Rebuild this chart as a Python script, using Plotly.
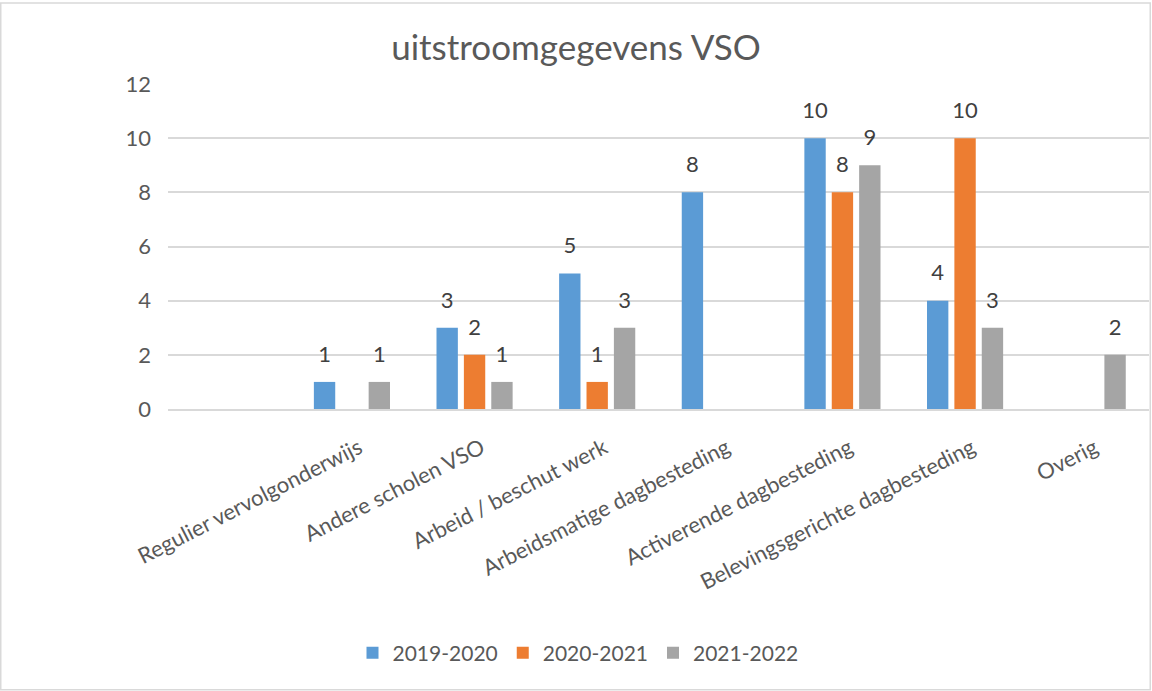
import plotly.graph_objects as go

categories = [
    "Regulier vervolgonderwijs",
    "Andere scholen VSO",
    "Arbeid / beschut werk",
    "Arbeidsmatige dagbesteding",
    "Activerende dagbesteding",
    "Belevingsgerichte dagbesteding",
    "Overig",
]
series_names = ["2019-2020", "2020-2021", "2021-2022"]
values_2019_2020 = [1, 3, 5, 8, 10, 4, None]
values_2020_2021 = [None, 2, 1, None, 8, 10, None]
values_2021_2022 = [1, 1, 3, None, 9, 3, 2]
colors = ["#5B9BD5", "#ED7D31", "#A5A5A5"]

W, H = 1152, 691
ML, MR, MT, MB = 168, 3, 84, 282
FONT = "Lato"
TXT = "#595959"

fig = go.Figure()
all_vals = [values_2019_2020, values_2020_2021, values_2021_2022]
for name, vals, col in zip(series_names, all_vals, colors):
    fig.add_trace(go.Bar(
        name=name, x=categories, y=vals, marker_color=col,
        marker_line_width=0, hoverinfo="x+y+name",
    ))
# data labels, grouped like the bars
for name, vals in zip(series_names, all_vals):
    fig.add_trace(go.Scatter(
        x=categories, y=vals, mode="markers+text", showlegend=False,
        text=[("" if v is None else str(v)) for v in vals],
        textposition="top center", cliponaxis=False, hoverinfo="skip",
        marker=dict(size=22, color="rgba(0,0,0,0)"),
        textfont=dict(family=FONT, size=22, color="#404040"),
    ))

pw = W - ML - MR
ph = H - MT - MB
fig.add_shape(type="rect", xref="paper", yref="paper",
              x0=(0.75 - ML) / pw, x1=(W - 1.75 - ML) / pw,
              y0=-(H - 1.25 - MT - ph) / ph, y1=1 + (MT - 3) / ph,
              line=dict(color="#D9D9D9", width=1.5), layer="below")

fig.update_layout(
    width=W, height=H,
    margin=dict(l=ML, r=MR, t=MT, b=MB),
    paper_bgcolor="white", plot_bgcolor="white",
    barmode="group", bargap=0.33, bargroupgap=0.22,
    scattermode="group", scattergap=0.33,
    title=dict(text="uitstroomgegevens VSO", x=0.5, xref="container",
               y=1 - 48 / H, yref="container", xanchor="center", yanchor="middle",
               font=dict(family=FONT, size=35, color=TXT)),
    font=dict(family=FONT, color=TXT),
    legend=dict(orientation="h", x=(578 - ML) / pw, xanchor="center",
                y=-(653 - (H - MB)) / ph, yanchor="middle",
                font=dict(family=FONT, size=21, color=TXT),
                itemwidth=30, traceorder="normal"),
    xaxis=dict(type="category", categoryorder="array",
               categoryarray=categories, range=[-1.5, len(categories) - 0.5],
               tickangle=-27, tickfont=dict(family=FONT, size=22, color=TXT),
               showgrid=False, showline=True, linecolor="#D9D9D9", linewidth=1.5,
               ticks="", ticklabelstandoff=16, ticklabelshift=7),
    yaxis=dict(range=[0, 12], dtick=2, showgrid=True, gridcolor="#D9D9D9",
               gridwidth=1.5, zeroline=False, ticks="",
               tickfont=dict(family=FONT, size=22, color=TXT),
               ticklabelstandoff=16),
)

fig.write_html("out.html", config={"displayModeBar": False},
               post_script="document.body.style.margin='0';")
